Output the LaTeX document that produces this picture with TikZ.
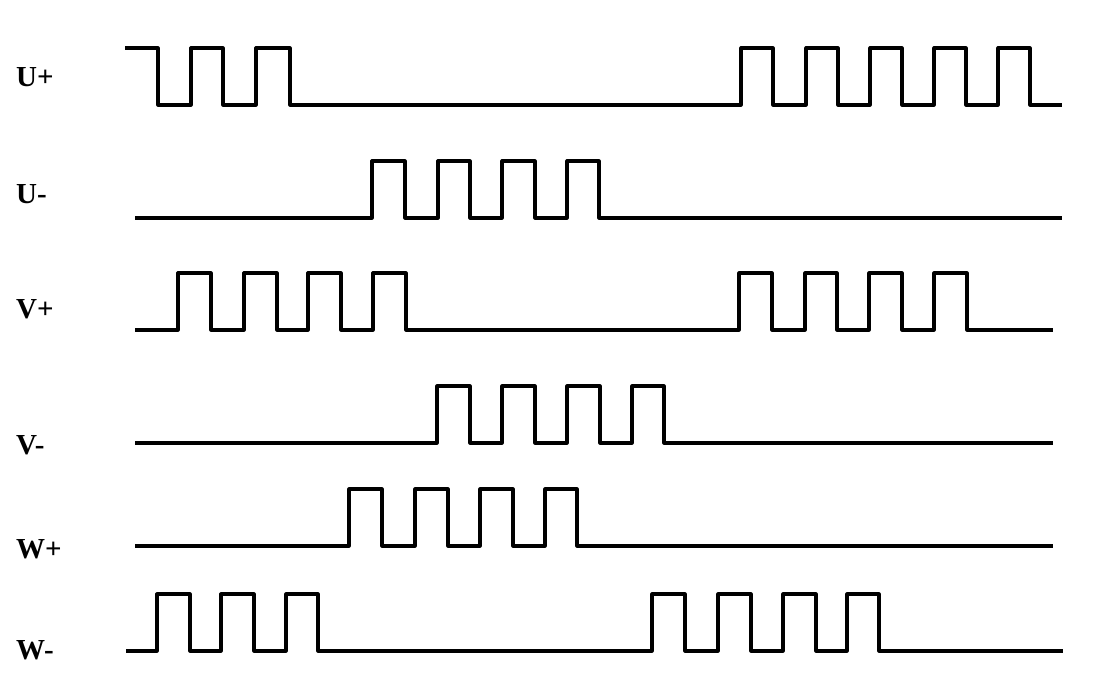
\documentclass[tikz,border=0pt]{standalone}
\usepackage{fontspec}
\setmainfont{Liberation Serif}
\begin{document}
\begin{tikzpicture}[x=1pt,y=-1pt,
  sig/.style={line width=3.2pt,line join=round,line cap=butt},
  lbl/.style={anchor=base west,inner sep=0pt,font=\fontsize{29}{29}\selectfont\bfseries}]
\useasboundingbox (0,0) rectangle (1103,677);
% labels (base line positions)
\node[lbl] (lup) at (16,86) {U+};
\node[lbl] (lum) at (16,203) {U-};
\node[lbl] (lvp) at (16,318) {V+};
\node[lbl] (lvm) at (16,454) {V-};
\node[lbl] (lwp) at (16,558) {W+};
\node[lbl] (lwm) at (16,659) {W-};
% U+
\draw[sig] (125,48) -| (158,105) -| (191,48) -| (223,105) -| (256,48) -| (290,105)
  -| (741,48) -| (773,105) -| (806,48) -| (838,105) -| (870,48) -| (902,105)
  -| (934,48) -| (966,105) -| (998,48) -| (1030,105) -- (1062,105);
% U-
\draw[sig] (135,218) -| (372,161) -| (405,218) -| (438,161) -| (470,218)
  -| (502,161) -| (535,218) -| (567,161) -| (599,218) -- (1062,218);
% V+
\draw[sig] (135,330) -| (178,273) -| (211,330) -| (244,273) -| (277,330)
  -| (308,273) -| (341,330) -| (373,273) -| (406,330)
  -| (739,273) -| (772,330) -| (805,273) -| (837,330) -| (869,273) -| (902,330)
  -| (934,273) -| (967,330) -- (1053,330);
% V-
\draw[sig] (135,443) -| (437,386) -| (470,443) -| (502,386) -| (535,443)
  -| (567,386) -| (600,443) -| (632,386) -| (664,443) -- (1053,443);
% W+
\draw[sig] (135,546) -| (349,489) -| (382,546) -| (415,489) -| (448,546)
  -| (480,489) -| (513,546) -| (545,489) -| (577,546) -- (1053,546);
% W-
\draw[sig] (126,651) -| (157,594) -| (190,651) -| (221,594) -| (254,651)
  -| (286,594) -| (318,651) -| (652,594) -| (685,651) -| (718,594) -| (751,651)
  -| (783,594) -| (816,651) -| (847,594) -| (879,651) -- (1063,651);
\end{tikzpicture}
\end{document}
